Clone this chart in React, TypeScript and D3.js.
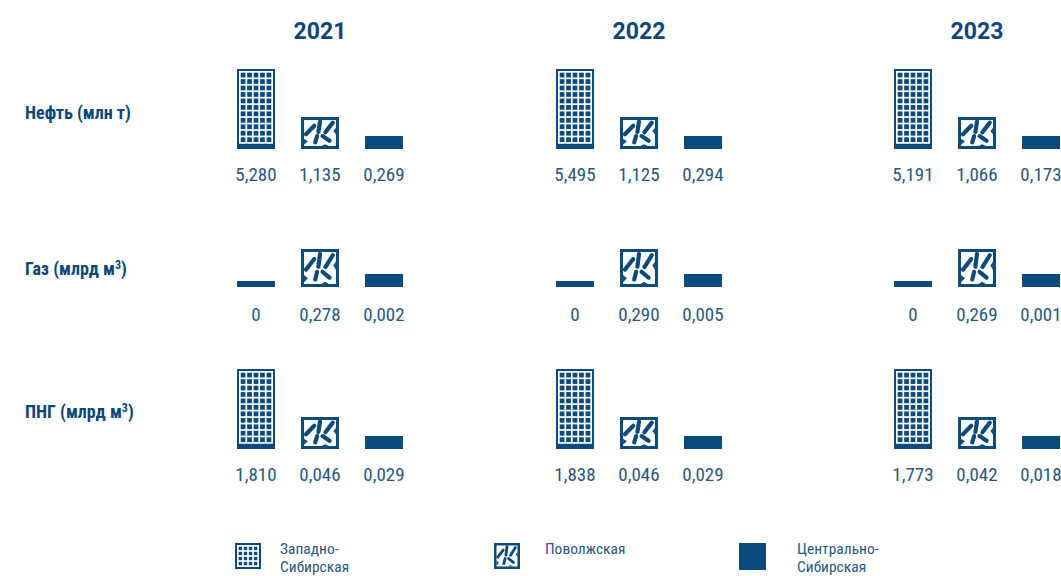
import React from 'react';
import * as d3 from 'd3';

// ---------- data ----------
const years = ['2021', '2022', '2023'];
const regions = ['Западно-Сибирская', 'Поволжская', 'Центрально-Сибирская'];
const legendLines = [['Западно-', 'Сибирская'], ['Поволжская'], ['Центрально-', 'Сибирская']];
const rowNames = ['Нефть (млн т)', 'Газ (млрд м', 'ПНГ (млрд м'];
const rowSup = ['', '3', '3'];
// values per year: [Западно-Сибирская, Поволжская, Центрально-Сибирская]
const oilValues = [[5.28, 1.135, 0.269], [5.495, 1.125, 0.294], [5.191, 1.066, 0.173]];
const gasValues = [[0, 0.278, 0.002], [0, 0.29, 0.005], [0, 0.269, 0.001]];
const apgValues = [[1.81, 0.046, 0.029], [1.838, 0.046, 0.029], [1.773, 0.042, 0.018]];
const rows = [oilValues, gasValues, apgValues];

// ---------- styles / layout ----------
const W = 1061;
const H = 576;
const DARK = '#0c4a7b';
const TEXT = '#2a5782';
const TITLE = '#0d4677';
const FONT = "'Liberation Sans Narrow', 'Roboto Condensed', 'DejaVu Sans Condensed', Roboto, sans-serif";

const groupX = d3.scaleOrdinal<string, number>().domain(years).range([237, 556, 894]);
const regionOffset = d3.scaleOrdinal<string, number>().domain(regions).range([0, 64, 128]);
const ICON_W = 38;
const rowBase = d3.scaleOrdinal<number, number>().domain([0, 1, 2]).range([149, 287, 449]);
const rowValueY = d3.scaleOrdinal<number, number>().domain([0, 1, 2]).range([181, 321, 481]);
const rowLabelY = d3.scaleOrdinal<number, number>().domain([0, 1, 2]).range([119, 275, 418]);
// pictogram heights (decorative, per row type)
const iconHeights = [[80, 32, 13], [80, 38, 13], [80, 32, 13]];
const ZERO_H = 6;

const ruLocale = d3.formatLocale({ decimal: ',', thousands: ' ', grouping: [3], currency: ['', ''] });
const fmt3 = ruLocale.format('.3f');
const fmt = (v: number) => (v === 0 ? '0' : fmt3(v));

function GridIcon({ x, y, w, h, cols }: { x: number; y: number; w: number; h: number; cols: number }) {
  const b = 2;
  const g = 1.7;
  const innerW = w - 2 * b;
  const innerH = h - 2 * b;
  const s = (innerW - (cols + 1) * g) / cols;
  const p = s + g;
  const nRows = Math.floor((innerH - g) / p);
  const used = nRows * p + g;
  const cells: JSX.Element[] = [];
  for (let r = 0; r < nRows; r++) {
    for (let c = 0; c < cols; c++) {
      cells.push(
        <rect key={`${r}-${c}`} x={x + b + g + c * p} y={y + b + g + r * p} width={s} height={s} fill={DARK} />
      );
    }
  }
  return (
    <g>
      <rect x={x} y={y} width={w} height={h} fill={DARK} />
      <rect x={x + b} y={y + b} width={innerW} height={used} fill="#fff" />
      {cells}
    </g>
  );
}

function VolgaIcon({ x, y, w, h }: { x: number; y: number; w: number; h: number }) {
  const b = Math.max(2.5, w * 0.08);
  const ix = x + b;
  const iy = y + b;
  const iw = w - 2 * b;
  const ih = h - 2 * b;
  const sx = d3.scaleLinear().domain([0, 1]).range([ix, ix + iw]);
  const sy = d3.scaleLinear().domain([0, 1]).range([iy, iy + ih]);
  const strokes: [number, number, number, number][] = [
    [0.06, 0.55, 0.32, 0.22],
    [0.5, 0.06, 0.45, 0.46],
    [0.9, 0.1, 0.67, 0.47],
    [0.41, 0.62, 0.35, 0.86],
    [0.58, 0.62, 0.8, 0.8],
  ];
  const sw = Math.max(2.4, w * 0.11);
  const notch = d3.line()([
    [sx(0), sy(0.72)],
    [sx(0.12), sy(0.82)],
    [sx(0), sy(0.95)],
  ]);
  const notch2 = d3.line()([
    [sx(1), sy(0.3)],
    [sx(0.92), sy(0.42)],
    [sx(1), sy(0.56)],
  ]);
  const notch3 = d3.line()([
    [sx(0.55), sy(1)],
    [sx(0.66), sy(0.93)],
    [sx(0.78), sy(1)],
  ]);
  return (
    <g>
      <rect x={x} y={y} width={w} height={h} fill={DARK} />
      <rect x={ix} y={iy} width={iw} height={ih} fill="#fff" />
      <path d={notch || ''} fill={DARK} />
      <path d={notch2 || ''} fill={DARK} />
      <path d={notch3 || ''} fill={DARK} />
      {strokes.map((s, i) => (
        <line
          key={i}
          x1={sx(s[0])}
          y1={sy(s[1])}
          x2={sx(s[2])}
          y2={sy(s[3])}
          stroke={DARK}
          strokeWidth={sw}
          strokeLinecap="round"
        />
      ))}
    </g>
  );
}

function Icon({ region, x, base, h, value }: { region: number; x: number; base: number; h: number; value: number }) {
  if (region === 0 && value === 0) {
    return <rect x={x} y={base - ZERO_H} width={ICON_W} height={ZERO_H} fill={DARK} />;
  }
  if (region === 0) return <GridIcon x={x} y={base - h} w={ICON_W} h={h} cols={5} />;
  if (region === 1) return <VolgaIcon x={x} y={base - h} w={ICON_W} h={h} />;
  return <rect x={x} y={base - h} width={ICON_W} height={h} fill={DARK} />;
}

const legendX = d3.scaleOrdinal<string, number>().domain(regions).range([235, 494, 739]);
const legendTextDx = d3.scaleOrdinal<string, number>().domain(regions).range([45, 51, 58]);

export default function App() {
  return (
    <svg
      width={W}
      height={H}
      style={{ position: 'absolute', left: 0, top: 0, background: '#fff' }}
      fontFamily={FONT}
    >
      {/* year titles */}
      {years.map((yr) => (
        <text
          key={yr}
          x={groupX(yr) + regionOffset(regions[1]) + ICON_W / 2}
          y={39}
          textAnchor="middle"
          fontFamily="Roboto, sans-serif"
          fontWeight={700}
          fontSize={23}
          fill={TITLE}
        >
          {yr}
        </text>
      ))}

      {/* row labels */}
      {rowNames.map((name, ri) => (
        <text key={name} x={25} y={rowLabelY(ri)} fontWeight={700} fontSize={18} fill={TITLE}>
          {name}
          {rowSup[ri] ? (
            <>
              <tspan dy={-6} fontSize={12}>
                {rowSup[ri]}
              </tspan>
              <tspan dy={6}>)</tspan>
            </>
          ) : null}
        </text>
      ))}

      {/* icons and values */}
      {rows.map((rowData, ri) =>
        years.map((yr, yi) =>
          regions.map((rg, gi) => {
            const v = rowData[yi][gi];
            const x = groupX(yr) + regionOffset(rg);
            return (
              <g key={`${ri}-${yi}-${gi}`}>
                <Icon region={gi} x={x} base={rowBase(ri)} h={iconHeights[ri][gi]} value={v} />
                <text
                  x={x + ICON_W / 2}
                  y={rowValueY(ri)}
                  textAnchor="middle"
                  fontSize={19}
                  fill={TEXT}
                >
                  {fmt(v)}
                </text>
              </g>
            );
          })
        )
      )}

      {/* legend */}
      {regions.map((rg, gi) => {
        const lx = legendX(rg);
        const ly = 543;
        const tx = lx + legendTextDx(rg);
        return (
          <g key={rg}>
            {gi === 0 && <GridIcon x={lx} y={ly} w={26} h={26} cols={4} />}
            {gi === 1 && <VolgaIcon x={lx} y={ly} w={26} h={26} />}
            {gi === 2 && <rect x={lx} y={ly} width={27} height={27} fill={DARK} />}
            <text x={tx} y={554} fontSize={15.5} fill={TEXT}>
              {legendLines[gi].map((ln, li) => (
                <tspan key={li} x={tx} dy={li === 0 ? 0 : 18}>
                  {ln}
                </tspan>
              ))}
            </text>
          </g>
        );
      })}
    </svg>
  );
}
